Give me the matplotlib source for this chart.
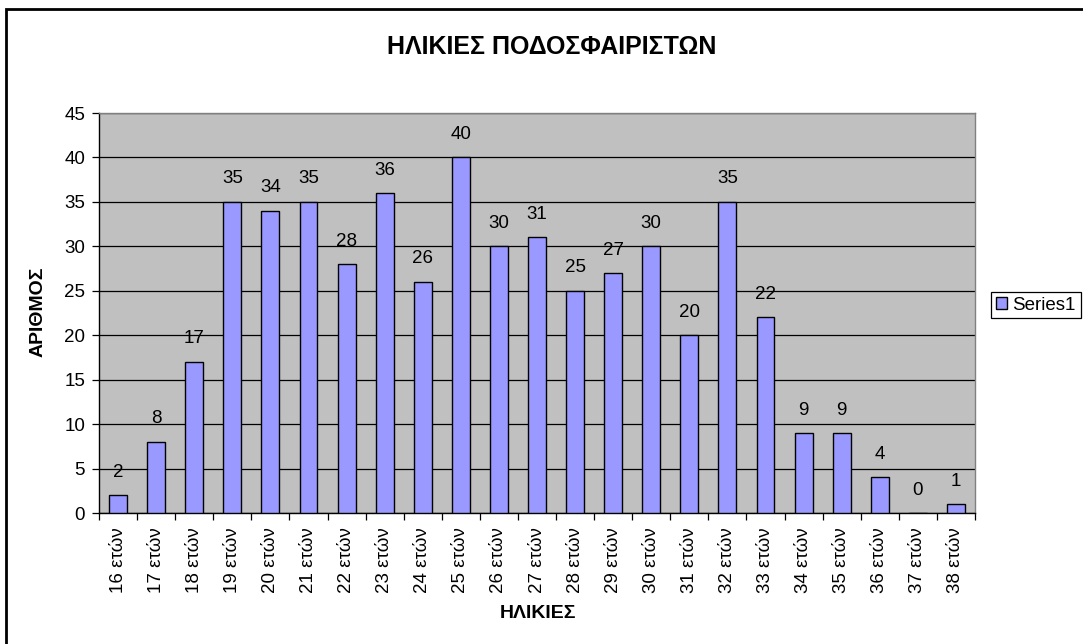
import matplotlib
matplotlib.use("Agg")
import matplotlib.pyplot as plt
from matplotlib.patches import Rectangle
import numpy as np

plt.rcParams["font.family"] = ["Liberation Sans", "DejaVu Sans"]

AGES = list(range(16, 39))
LABELS = [f"{a} ετών" for a in AGES]
COUNTS = [2, 8, 17, 35, 34, 35, 28, 36, 26, 40, 30, 31, 25, 27, 30, 20, 35, 22, 9, 9, 4, 0, 1]

TITLE = "ΗΛΙΚΙΕΣ ΠΟΔΟΣΦΑΙΡΙΣΤΩΝ"
XLABEL = "ΗΛΙΚΙΕΣ"
YLABEL = "ΑΡΙΘΜΟΣ"
SERIES = "Series1"

W, H = 1083, 644
FS = 13.5


def fx(px):
    return px / W


def fy(py):
    return 1 - py / H


fig = plt.figure(figsize=(W / 100, H / 100), dpi=100)
ax = fig.add_axes([fx(99), fy(513), fx(975) - fx(99), fy(113) - fy(513)])
ax.set_facecolor("#C0C0C0")

x = np.arange(len(COUNTS))
bars = ax.bar(x, COUNTS, width=0.47, color="#9999FF", edgecolor="black",
              linewidth=1.0, zorder=3, label=SERIES)

for xi, v in zip(x, COUNTS):
    ax.annotate(str(v), (xi, v), xytext=(0, 16.5), textcoords="offset points",
                ha="center", va="center", fontsize=FS, zorder=4)

ax.set_xlim(-0.5, len(COUNTS) - 0.5)
ax.set_ylim(0, 45)
ax.set_yticks(range(0, 46, 5))
ax.yaxis.grid(True, color="black", linewidth=0.9, zorder=1)
ax.tick_params(axis="y", labelsize=FS, length=5, width=0.9, direction="out", pad=5)

ax.set_xticks(x)
ax.set_xticklabels(LABELS, rotation=90, fontsize=FS)
ax.set_xticks(np.arange(-0.5, len(COUNTS), 1), minor=True)
ax.tick_params(axis="x", which="major", length=0, pad=10)
ax.tick_params(axis="x", which="minor", length=5, width=0.9, direction="out")

for side in ["left", "bottom"]:
    ax.spines[side].set_color("black")
    ax.spines[side].set_linewidth(1.0)
for side in ["top", "right"]:
    ax.spines[side].set_color("#808080")
    ax.spines[side].set_linewidth(1.0)

fig.text(fx(552), fy(47), TITLE, ha="center", va="center", fontsize=18, fontweight="bold")
fig.text(fx(538), fy(614), XLABEL, ha="center", va="center", fontsize=14, fontweight="bold")
fig.text(fx(38), fy(312), YLABEL, ha="center", va="center", rotation=90,
         fontsize=14, fontweight="bold")

leg = fig.legend(handles=[bars], labels=[SERIES], loc="center left",
                 bbox_to_anchor=(fx(991), fy(305)), fontsize=FS, frameon=True,
                 fancybox=False, edgecolor="black", framealpha=1,
                 handlelength=0.6, handleheight=0.6, handletextpad=0.3,
                 borderpad=0.25, borderaxespad=0)
leg.get_frame().set_linewidth(0.9)

fig.patches.append(Rectangle((fx(6), -0.1), 1.2, fy(9) + 0.1, transform=fig.transFigure,
                             fill=False, edgecolor="black", linewidth=2.0))

fig.savefig("out.png", dpi=100)
